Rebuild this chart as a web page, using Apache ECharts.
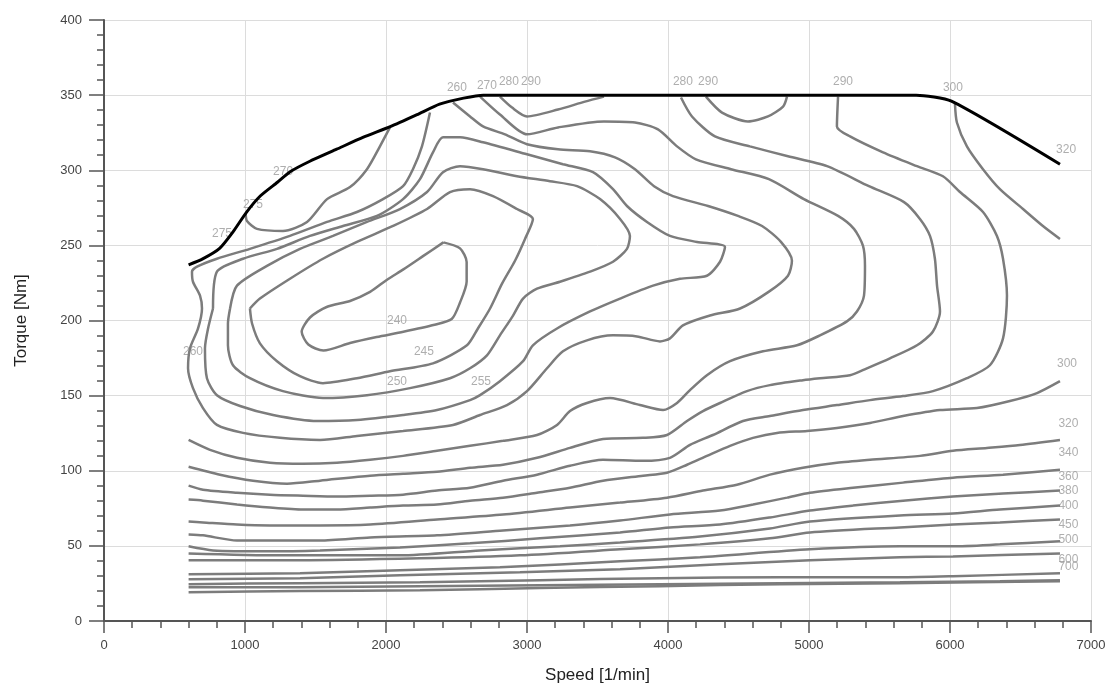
<!DOCTYPE html>
<html>
<head>
<meta charset="utf-8">
<script src="https://cdn.jsdelivr.net/npm/echarts@6/dist/echarts.min.js"></script>
<style>
html,body{margin:0;padding:0;background:#fff;}
#chart{width:1110px;height:689px;}
</style>
</head>
<body>
<div id="chart"></div>
<script>
// ---- data (speed [1/min], torque [Nm]) ----
const xTicks = [0, 1000, 2000, 3000, 4000, 5000, 6000, 7000];
const yTicks = [0, 50, 100, 150, 200, 250, 300, 350, 400];

const fullLoad = [[600,237],[700,241],[820,248],[915,259],[1010,272],[1110,283],[1230,292],[1320,299],[1460,306],[1650,314],[1840,322],[2030,329],[2220,337],[2380,344],[2550,348],[2690,350],[5760,350],[6010,346],[6780,304]];

const c240 = [[2407,252],[2525,248],[2572,239],[2572,226],[2525,212],[2466,201],[2336,197],[2123,192.5],[1934,189],[1745,185],[1556,180],[1449,184],[1402,192.5],[1461,202],[1579,209],[1745,213],[1887,219],[2005,227],[2123,234],[2265,243],[2407,252]];

const c245 = [[1035,208],[1106,214.6],[1319,227.8],[1553,241.1],[1794,252.3],[2050,262.9],[2291,274.2],[2454,285.5],[2596,287.4],[2759,282.8],[2929,274.2],[3042,267.6],[2986,254.3],[2915,239.8],[2823,224.5],[2738,208],[2652,194.7],[2574,183.5],[2333,171.5],[2028,166.2],[1794,161.6],[1553,158.3],[1390,162.9],[1227,172.9],[1106,184.8],[1050,198],[1035,208]];

const c250 = [[894,208],[943,223.2],[1156,236.4],[1390,247.7],[1624,256.3],[1865,265.6],[2099,274.2],[2291,285.5],[2404,298.7],[2525,302.7],[2688,300.7],[2929,296],[3163,292.7],[3355,289.4],[3518,280.8],[3660,267.6],[3730,256.3],[3709,247.7],[3610,239.1],[3447,232.5],[3234,225.8],[3071,221.2],[2972,214.6],[2901,203.3],[2808,190.1],[2716,176.8],[2596,168.2],[2454,161.6],[2170,155],[1865,150.3],[1553,148.4],[1269,153],[1035,161.6],[915,170.2],[879,183.5],[879,198],[894,208]];

const c255 = [[773,208],[801,232.5],[986,241.1],[1227,247.7],[1461,256.3],[1695,262.9],[1936,269.6],[2121,280.8],[2241,294.1],[2333,311.9],[2404,321.9],[2525,321.9],[2688,318.6],[3000,310.6],[3255,304],[3468,298.7],[3610,287.4],[3709,276.2],[3851,265.6],[4014,256.3],[4206,252.3],[4404,249],[4369,239.1],[4276,229.8],[4085,227.8],[3894,223.2],[3660,214.6],[3447,206],[3213,194.7],[3042,183.5],[2972,172.9],[2808,159.6],[2667,150.3],[2596,147],[2362,140.4],[2121,137.1],[1794,133.8],[1511,133.1],[1199,137.1],[965,143.1],[801,150.3],[730,161.6],[716,181.5],[738,194.7],[773,208]];

const c260 = [[2475,345.1],[2596,335.8],[2688,329.2],[2844,323.9],[3000,317.3],[3220,313.9],[3447,312.6],[3624,308.6],[3766,300.7],[3901,289.4],[4035,282.8],[4284,276.2],[4496,269.6],[4667,262.9],[4801,252.3],[4879,239.8],[4851,229.8],[4716,219.2],[4511,208],[4298,203.3],[4106,196.7],[4014,188.1],[3943,186.1],[3780,189.4],[3610,190.1],[3425,186.8],[3255,179.5],[3142,168.2],[3000,153],[2858,143.7],[2667,137.1],[2475,130.5],[2121,126.5],[1794,123.2],[1532,120.5],[1248,121.9],[986,125.2],[801,130.5],[702,141.7],[631,155],[596,168.2],[610,181.5],[667,194.7],[695,208],[681,216.6],[631,225.8],[624,232.5],[660,235.8],[801,241.1],[1035,247.7],[1319,256.3],[1582,265.6],[1794,272.2],[1979,280.8],[2121,289.4],[2191,300.7],[2255,315.9],[2312,338.4]];

const c275 = [[1005,271],[1014,266.2],[1085,261],[1269,259.6],[1440,265.6],[1582,280.8],[1745,288.8],[1865,300.7],[1957,315.9],[2028,328.5]];

const c270 = [[2667,349],[2808,337.1],[3000,323.9],[3220,328.5],[3546,332.5],[3766,331.8],[3929,327.2],[4064,315.9],[4198,307.3],[4447,300.7],[4716,294.1],[4964,280.8],[5206,269.6],[5319,261],[5383,249.7],[5397,236.4],[5390,216.6],[5340,206],[5269,199.4],[5078,190.1],[4915,183.5],[4674,179.5],[4440,172.9],[4276,163.6],[4156,153.7],[4064,145.1],[3965,140.4],[3801,143.7],[3589,148.4],[3425,145.1],[3305,139.7],[3213,130.5],[3071,123.8],[2830,119.9],[2596,116.6],[2362,113.3],[2121,109.9],[1887,107.3],[1652,105.3],[1411,104.6],[1177,105.3],[943,108.6],[752,113.9],[600,120.5]];

const c280top = [[2808,349],[2894,341.7],[3000,335.8],[3220,340.4],[3411,345.7],[3546,349]];

const c280 = [[4092,348.4],[4170,335.8],[4333,322.5],[4581,315.9],[4851,309.3],[5128,302.7],[5425,289.4],[5674,278.8],[5787,267.6],[5858,256.3],[5893,241.1],[5908,223.2],[5929,206],[5879,192.7],[5766,183.5],[5574,174.8],[5411,168.2],[5291,163.6],[5078,161.6],[4957,160.3],[4723,157],[4560,153],[4369,145.1],[4248,139.7],[4135,133.1],[3993,123.8],[3823,121.9],[3539,121.2],[3305,115.2],[3071,108.6],[2830,104],[2596,102],[2362,99.3],[2121,98],[1887,96.7],[1532,93.4],[1298,91.4],[1057,93.4],[823,97.4],[600,102.7]];

const c290top = [[4269,349],[4383,338.4],[4567,332.5],[4709,335.8],[4816,342.4],[4844,349]];

const c290 = [[5206,349],[5198,329.2],[5291,322.5],[5525,311.9],[5766,302.7],[5950,296],[6071,285.5],[6234,272.2],[6333,256.3],[6376,241.1],[6404,216.6],[6376,188.1],[6283,170.2],[6120,161.6],[5879,153],[5667,149.7],[5433,147],[5198,143.7],[4957,140.4],[4723,136.4],[4532,133.1],[4319,123.8],[4156,117.2],[4014,108.6],[3823,106.6],[3539,107.3],[3305,103.3],[3071,97.4],[2830,93.4],[2596,88.7],[2362,86.8],[2121,84.1],[1887,83.4],[1652,82.8],[1411,83.4],[1177,84.1],[943,85.4],[702,87.4],[600,90.1]];

const c300top = [[6035,344.4],[6049,331.8],[6120,315.9],[6234,300.7],[6354,287.4],[6518,274.2],[6659,262.9],[6780,254.3]];

const c300 = [[600,80.8],[702,80.1],[943,77.5],[1177,75.5],[1411,74.2],[1652,74.2],[1887,75.5],[2121,76.8],[2362,77.5],[2596,80.1],[2830,82.1],[3071,85.4],[3305,88.7],[3539,93.4],[3823,96.7],[3993,98.7],[4135,104],[4276,109.9],[4440,116.6],[4603,121.9],[4773,125.2],[4986,126.5],[5198,128.5],[5433,131.8],[5667,136.4],[5929,140.4],[6191,141.7],[6425,146.4],[6617,151.7],[6780,159.6]];

const c320 = [[600,66.2],[702,65.6],[943,64.2],[1177,63.6],[1532,63.6],[1887,64.2],[2362,67.6],[2830,70.9],[3305,75.5],[3660,78.8],[3993,82.1],[4248,86.8],[4489,90.7],[4723,97.4],[4957,102],[5198,105.3],[5433,107.3],[5787,109.9],[6021,113.3],[6262,115.2],[6496,117.2],[6780,120.5]];

const c340 = [[600,57.6],[702,57],[943,53.6],[1177,53.6],[1532,53.6],[1887,55.6],[2362,57],[2830,60.3],[3305,63.6],[3660,66.9],[4014,70.9],[4369,73.5],[4603,77.5],[4844,82.1],[5007,85.4],[5312,88.7],[5667,92.1],[6021,95.4],[6376,97.4],[6780,100.7]];

const c360 = [[600,49.7],[773,47],[1177,46.4],[1532,47],[2099,49],[2596,51.7],[3092,55],[3660,58.9],[4014,62.3],[4369,64.2],[4723,68.9],[5007,73.5],[5312,76.8],[5667,80.1],[6021,82.8],[6376,84.8],[6780,86.8]];

const c380 = [[600,45],[1248,43.7],[2099,43.7],[2667,47],[3234,49.7],[3660,52.3],[4227,56.3],[4723,61.6],[5007,66.2],[5645,70.2],[6021,71.5],[6354,74.2],[6780,76.8]];

const c400 = [[600,40.4],[1390,40.4],[2241,41.7],[2950,43.7],[3660,47.7],[4227,51],[4723,55],[5007,58.9],[5645,62.3],[6021,64.2],[6354,65.6],[6780,67.6]];

const c450 = [[600,31.1],[1390,31.8],[2099,33.8],[2808,35.8],[3660,39.7],[4227,42.4],[5007,47.7],[5645,49.7],[6021,49.7],[6354,51],[6780,53]];

const c500 = [[600,27.8],[1390,28.5],[2099,30.5],[2950,32.5],[3660,34.4],[4369,37.8],[5007,40.4],[5645,42.4],[6021,43],[6780,45]];

const c600 = [[600,24.5],[1390,25.2],[2241,25.8],[3092,27.2],[3943,28.5],[4794,29.1],[5645,29.1],[6021,29.8],[6780,31.8]];

const c700 = [[600,22.5],[1390,22.5],[2241,23.2],[3092,23.8],[3943,24.5],[4794,25.2],[5645,25.8],[6354,26.5],[6780,27.2]];

const c800 = [[600,19.2],[1390,19.9],[2241,20.5],[3092,21.9],[3943,23.2],[4794,24.5],[5645,25.2],[6780,26.5]];

// contour value labels: [speed, torque, text]
const contourLabels = [
  [2503,355,'260'],[2716,356,'270'],[2872,359,'280'],[3028,359,'290'],
  [4106,359,'280'],[4284,359,'290'],[5241,359,'290'],[6021,355,'300'],[6823,314,'320'],
  [1270,299,'270'],[1057,277,'275'],[837,258,'275'],
  [631,179.5,'260'],[2078,200,'240'],[2269,179.5,'245'],[2078,159.6,'250'],[2674,159.6,'255'],
  [6830,171,'300'],[6840,131,'320'],[6840,112,'340'],[6840,96,'360'],[6840,86.8,'380'],
  [6840,76.8,'400'],[6840,64.2,'450'],[6840,54.3,'500'],[6840,41,'600'],[6840,36.4,'700']
];

const contours = [c240,c245,c250,c255,c260,c275,c270,c280top,c280,c290top,c290,c300top,c300,c320,c340,c360,c380,c400,c450,c500,c600,c700,c800];

// ---- chart ----
const chart = echarts.init(document.getElementById('chart'), null, {renderer:'canvas'});
const axisCol = '#555';
const series = [];
series.push({
  type:'scatter', data: contourLabels, symbolSize:0, silent:true, z:2,
  label:{show:true, position:'inside', formatter:p=>p.value[2], color:'#9a9a9a',
         fontSize:12, fontFamily:'Liberation Sans Narrow, Liberation Sans, sans-serif'}
});
contours.forEach(c=>{
  series.push({type:'line', data:c, showSymbol:false, smooth:0.25, silent:true, z:3,
    lineStyle:{color:'#7c7c7c', width:2.5}});
});
series.push({type:'line', data:fullLoad, showSymbol:false, smooth:0.2, silent:true, z:4,
  lineStyle:{color:'#000', width:3}});

chart.setOption({
  animation:false,
  backgroundColor:'#fff',
  grid:{left:104, right:19, top:20, bottom:65, containLabel:false},
  xAxis:{
    type:'value', min:xTicks[0], max:xTicks[xTicks.length-1], interval:1000,
    name:'Speed [1/min]', nameLocation:'middle', nameGap:46,
    nameTextStyle:{fontSize:17, color:'#222', fontFamily:'Liberation Sans, Arial, sans-serif'},
    axisLine:{show:true, onZero:false, lineStyle:{color:axisCol, width:2}},
    axisTick:{show:true, length:12, lineStyle:{color:axisCol, width:1.5}},
    minorTick:{show:true, splitNumber:5, length:7, lineStyle:{color:axisCol, width:1.5}},
    axisLabel:{margin:18, fontSize:13, color:'#444', fontFamily:'Liberation Sans, Arial, sans-serif', formatter:v=>String(v)},
    splitLine:{show:true, lineStyle:{color:'#dcdcdc', width:1}}
  },
  yAxis:{
    type:'value', min:yTicks[0], max:yTicks[yTicks.length-1], interval:50,
    name:'Torque [Nm]', nameLocation:'middle', nameGap:74, nameRotate:90,
    nameTextStyle:{fontSize:17, color:'#222', fontFamily:'Liberation Sans, Arial, sans-serif'},
    axisLine:{show:true, onZero:false, lineStyle:{color:axisCol, width:2}},
    axisTick:{show:true, length:15, lineStyle:{color:axisCol, width:1.5}},
    minorTick:{show:true, splitNumber:5, length:7, lineStyle:{color:axisCol, width:1.5}},
    axisLabel:{margin:22, fontSize:13, color:'#444', fontFamily:'Liberation Sans, Arial, sans-serif', formatter:v=>String(v)},
    splitLine:{show:true, lineStyle:{color:'#dcdcdc', width:1}}
  },
  series: series
});
</script>
</body>
</html>
